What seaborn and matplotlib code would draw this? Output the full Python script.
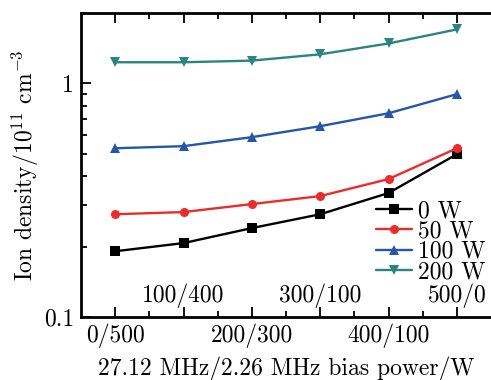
import matplotlib
matplotlib.use("Agg")
import matplotlib.pyplot as plt
import seaborn as sns
import pandas as pd
import numpy as np
from matplotlib.ticker import FixedLocator, NullFormatter, LogLocator

categories = ["0/500", "100/400", "200/300", "300/100", "400/100", "500/0"]
series_names = ["0 W", "50 W", "100 W", "200 W"]
vals_0w = [0.191, 0.207, 0.240, 0.275, 0.339, 0.497]
vals_50w = [0.275, 0.281, 0.304, 0.329, 0.389, 0.527]
vals_100w = [0.527, 0.538, 0.588, 0.655, 0.744, 0.898]
vals_200w = [1.23, 1.23, 1.25, 1.33, 1.48, 1.70]

sns.set_style("ticks")
plt.rcParams["font.family"] = ["cmr10", "DejaVu Serif"]
plt.rcParams["mathtext.fontset"] = "cm"
plt.rcParams["axes.formatter.use_mathtext"] = True
for k in ["axes.edgecolor", "xtick.color", "ytick.color", "text.color", "axes.labelcolor"]:
    plt.rcParams[k] = "black"

rows = []
for name, vals in zip(series_names, [vals_0w, vals_50w, vals_100w, vals_200w]):
    for i, v in enumerate(vals):
        rows.append({"x": i, "y": v, "power": name})
df = pd.DataFrame(rows)

colors = {"0 W": "#000000", "50 W": "#EE2B2B", "100 W": "#2457A8", "200 W": "#2A8581"}
markers = {"0 W": "s", "50 W": "o", "100 W": "^", "200 W": "v"}

FS = 17
fig = plt.figure(figsize=(4.91, 3.80), dpi=100)
ax = fig.add_axes([0.165, 0.166, 0.835, 0.800])
sns.lineplot(data=df, x="x", y="y", hue="power", style="power", hue_order=series_names,
             style_order=series_names, palette=colors, markers=markers, dashes=False,
             markersize=6.5, linewidth=1.7, markeredgewidth=0, ax=ax)

ax.set_yscale("log")
ax.set_ylim(0.1, 2.0)
ax.set_xlim(-0.5, 5.5)
ax.yaxis.set_major_locator(FixedLocator([0.1, 1]))
ax.set_yticklabels(["0.1", "1"])
ax.yaxis.set_minor_locator(LogLocator(base=10, subs=np.arange(2, 10)))
ax.yaxis.set_minor_formatter(NullFormatter())

ax.set_xticks(range(len(categories)))
ax.set_xticklabels([c if i % 2 == 0 else "" for i, c in enumerate(categories)])
ax.set_xticks(np.arange(0.5, 5.5, 1.0), minor=True)
for i, c in enumerate(categories):
    if i % 2 == 1:
        ax.text(i, 0.116, c, ha="center", va="baseline", fontsize=FS)

ax.tick_params(axis="both", which="both", direction="in", top=True, right=False, width=1.3)
ax.tick_params(axis="both", which="major", length=7, labelsize=FS, pad=5)
ax.tick_params(axis="both", which="minor", length=4)
for s in ["left", "bottom", "top"]:
    ax.spines[s].set_linewidth(2)
ax.spines["right"].set_visible(False)

ax.set_xlabel("27.12 MHz/2.26 MHz bias power/W", fontsize=FS, labelpad=6)
ax.set_ylabel("Ion density/10$^{11}$ cm$^{-3}$", fontsize=FS, labelpad=2)

leg = ax.legend(loc="upper left", bbox_to_anchor=(0.72, 0.384), frameon=False, fontsize=FS,
                handlelength=1.5, handletextpad=0.25, labelspacing=-0.08, borderaxespad=0,
                borderpad=0)
fig.savefig("out.png", dpi=100)
